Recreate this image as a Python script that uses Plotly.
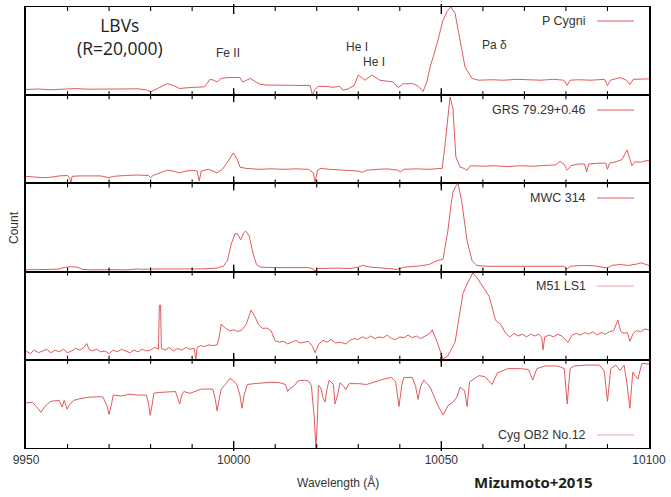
import plotly.graph_objects as go
from plotly.subplots import make_subplots

# ---------------- data (wavelength in Angstrom, relative count per panel) ----------------
names = ["P Cygni", "GRS 79.29+0.46", "MWC 314", "M51 LS1", "Cyg OB2 No.12"]

pcyg = [(9950,0.065),(9953,0.07),(9956,0.062),(9959,0.07),(9962,0.075),(9965,0.068),(9968,0.07),(9971,0.075),
        (9974,0.07),(9977,0.072),(9979,0.06),(9980,0.04),(9981,0.06),(9983,0.11),(9984,0.13),(9985.5,0.11),
        (9987,0.076),(9989,0.085),(9991,0.09),(9993,0.095),(9994.3,0.18),(9995.2,0.17),(9996,0.15),(9997,0.19),
        (9998.4,0.2),(10000,0.2),(10001.5,0.2),(10002.2,0.15),(10003,0.17),(10004,0.19),(10005,0.16),(10006.3,0.125),
        (10008,0.115),(10011,0.114),(10014,0.118),(10017,0.114),(10018.4,0.11),(10019,0.0),(10019.5,0.06),(10020.3,0.1),
        (10022,0.1),(10024,0.09),(10025.5,0.1),(10026.3,0.057),(10027.5,0.07),(10029,0.11),(10030,0.23),(10031.6,0.17),
        (10033.3,0.23),(10035.2,0.17),(10037,0.16),(10038.4,0.15),(10039.6,0.087),(10040.8,0.13),(10042,0.13),(10043.2,0.13),
        (10044.5,0.1),(10045.6,0.04),(10046.5,0.15),(10047.3,0.32),(10048.2,0.46),(10049,0.59),(10050.4,0.85),(10051.4,0.95),
        (10052.3,1.0),(10053.3,0.93),(10054.5,0.625),(10055.7,0.32),(10057.4,0.19),(10059,0.17),(10062,0.175),(10065,0.17),
        (10068,0.18),(10071,0.172),(10074,0.17),(10077,0.18),(10079.5,0.17),(10080.3,0.11),(10081,0.17),(10083,0.175),
        (10086,0.17),(10089.3,0.18),(10090,0.11),(10090.7,0.17),(10093,0.2),(10094.6,0.17),(10095.4,0.12),(10096.2,0.18),
        (10098,0.18),(10100,0.185)]

grs = [(9950,0.08),(9952,0.075),(9954,0.065),(9956,0.07),(9958,0.085),(9960,0.09),(9960.6,0.05),(9960.8,0.0),
       (9961.1,0.08),(9963,0.085),(9966,0.09),(9968,0.085),(9970,0.065),(9971,0.08),(9974,0.09),(9977,0.095),
       (9979.5,0.09),(9980,0.065),(9980.6,0.09),(9983,0.13),(9984,0.15),(9985.5,0.14),(9987,0.12),(9988.5,0.14),
       (9990,0.15),(9991.2,0.14),(9991.7,0.027),(9992.2,0.14),(9994,0.16),(9996,0.12),(9997.3,0.16),(9998.5,0.24),
       (9999.9,0.345),(10001,0.26),(10001.5,0.185),(10003,0.17),(10006,0.16),(10009,0.165),(10012,0.16),(10015,0.165),
       (10018,0.16),(10019.2,0.12),(10019.6,0.015),(10020.2,0.15),(10021,0.17),(10023,0.16),(10026,0.155),(10028,0.15),
       (10030,0.14),(10031,0.125),(10032,0.15),(10035,0.16),(10037,0.165),(10039.5,0.15),(10040.2,0.13),(10041,0.16),
       (10044,0.165),(10047,0.16),(10049,0.165),(10050.2,0.17),(10050.8,0.4),(10051.4,0.68),(10052.1,0.98),(10052.8,0.85),
       (10053.5,0.3),(10054.5,0.185),(10055.5,0.17),(10056.2,0.15),(10057,0.2),(10060,0.195),(10063,0.2),(10066,0.19),
       (10069,0.2),(10072,0.195),(10075,0.2),(10077.5,0.21),(10078.6,0.25),(10079.5,0.22),(10080.3,0.15),(10081.2,0.2),
       (10083,0.22),(10084.5,0.22),(10085,0.13),(10085.5,0.22),(10088,0.23),(10089.6,0.23),(10090,0.16),(10090.5,0.23),
       (10092,0.245),(10093.5,0.27),(10094.7,0.38),(10095.4,0.28),(10095.9,0.2),(10096.6,0.245),(10098,0.24),(10099,0.255),
       (10100,0.26)]

mwc = [(9950,0.02),(9953,0.02),(9956,0.025),(9958,0.03),(9959.5,0.05),(9961,0.055),(9962.5,0.05),(9963.5,0.025),
       (9966,0.02),(9970,0.022),(9974,0.02),(9977,0.03),(9978,0.025),(9981,0.03),(9985,0.028),(9989,0.032),(9992,0.03),
       (9994,0.035),(9996,0.04),(9997.5,0.06),(9998.5,0.125),(9999.4,0.31),(10000.3,0.43),(10000.9,0.43),(10001.7,0.36),
       (10002.4,0.44),(10002.9,0.46),(10003.7,0.41),(10004.7,0.2),(10005.5,0.08),(10006.5,0.05),(10010,0.045),(10014,0.045),
       (10018,0.045),(10019.2,0.03),(10019.6,0.003),(10020.2,0.035),(10022,0.04),(10025,0.04),(10028,0.035),(10030,0.05),
       (10031,0.07),(10033,0.05),(10036,0.04),(10039.3,0.025),(10041,0.05),(10044,0.06),(10047,0.08),(10049,0.125),
       (10050.4,0.14),(10051,0.3),(10051.6,0.47),(10052.3,0.75),(10052.8,0.9),(10053.4,0.96),(10054,1.0),(10054.9,0.8),
       (10055.6,0.55),(10056.2,0.35),(10057.4,0.125),(10058.5,0.07),(10061,0.06),(10065,0.06),(10069,0.058),(10073,0.06),
       (10077,0.065),(10079.5,0.06),(10080.3,0.03),(10081,0.06),(10084,0.07),(10087,0.065),(10090,0.04),(10091,0.07),
       (10093,0.08),(10095,0.07),(10097,0.085),(10098.1,0.1),(10099,0.085),(10100,0.07)]

m51 = [(9950,0.1),(9951,0.07),(9952,0.11),(9953,0.08),(9954,0.1),(9955,0.12),(9956,0.08),(9957,0.11),(9958,0.09),
       (9959,0.12),(9960,0.08),(9961,0.1),(9962,0.13),(9963,0.11),(9964,0.14),(9964.6,0.185),(9965.2,0.12),(9966,0.1),
       (9967,0.12),(9968,0.09),(9969,0.1),(9970,0.07),(9971,0.11),(9972,0.09),(9973,0.12),(9974,0.1),(9975,0.08),
       (9976,0.11),(9977,0.09),(9978,0.12),(9979,0.1),(9980,0.11),(9981,0.14),(9981.9,0.12),(9982.1,0.62),(9982.4,0.62),
       (9982.6,0.13),(9983.5,0.11),(9984.5,0.14),(9985.5,0.1),(9986.5,0.13),(9987.5,0.11),(9988.5,0.14),(9989.5,0.12),
       (9990.5,0.13),(9990.9,0.0),(9991.2,0.14),(9992,0.16),(9993,0.15),(9994,0.17),(9995,0.16),(9996,0.17),(9996.5,0.25),
       (9997,0.405),(9998,0.36),(9999,0.33),(10000,0.34),(10001,0.32),(10002,0.34),(10003,0.4),(10004.2,0.565),(10005,0.5),
       (10006,0.4),(10007,0.355),(10008,0.36),(10009,0.33),(10010,0.215),(10011,0.2),(10012,0.21),(10013,0.18),(10014,0.2),
       (10015,0.22),(10016,0.19),(10017,0.2),(10018,0.21),(10019,0.15),(10019.6,0.08),(10020.5,0.18),(10021.5,0.22),
       (10022.5,0.2),(10023.5,0.23),(10024.5,0.19),(10025.5,0.2),(10027,0.18),(10028,0.22),(10029,0.24),(10030,0.23),
       (10031,0.26),(10032,0.24),(10033,0.27),(10034,0.24),(10035,0.26),(10036,0.25),(10037,0.28),(10038,0.24),(10039,0.23),
       (10040,0.26),(10041,0.25),(10042,0.28),(10043,0.25),(10044,0.27),(10045,0.24),(10046,0.27),(10047.3,0.3),(10047.8,0.34),
       (10049,0.2),(10050.4,0.01),(10051.5,0.04),(10053.3,0.2),(10054.5,0.56),(10055.2,0.75),(10056.3,0.87),(10057.6,0.985),
       (10058.6,0.93),(10060,0.83),(10061.5,0.72),(10062.2,0.6),(10063,0.45),(10064.3,0.4),(10065.5,0.3),(10066.5,0.26),
       (10067.5,0.3),(10068.5,0.27),(10069.5,0.29),(10070.5,0.26),(10071.5,0.29),(10072.5,0.27),(10073.5,0.29),(10074.2,0.25),
       (10074.5,0.114),(10074.9,0.26),(10076,0.28),(10077,0.26),(10078,0.29),(10079,0.27),(10080.5,0.2),(10081.5,0.28),
       (10082.5,0.3),(10083.5,0.28),(10084.5,0.31),(10085.5,0.29),(10086.5,0.32),(10087.5,0.28),(10088.5,0.31),(10089.5,0.29),
       (10090.5,0.32),(10091.5,0.33),(10092.5,0.45),(10093.2,0.32),(10094,0.3),(10094.8,0.31),(10095.4,0.21),(10096.2,0.3),
       (10097,0.33),(10098,0.32),(10099,0.35),(10100,0.34)]

cyg = [(9950,0.51),(9951.5,0.52),(9952.5,0.47),(9953.6,0.405),(9954.5,0.47),(9956,0.53),(9958,0.54),(9958.7,0.465),
       (9959.2,0.54),(9959.9,0.44),(9960.6,0.5),(9961.5,0.54),(9963,0.56),(9965,0.575),(9967,0.58),(9968.5,0.58),
       (9969.5,0.48),(9970,0.38),(9970.6,0.5),(9971,0.6),(9973,0.59),(9975,0.61),(9977,0.6),(9979,0.6),(9979.5,0.5),
       (9979.9,0.37),(9980.4,0.5),(9980.8,0.62),(9982,0.63),(9984,0.635),(9986,0.64),(9986.5,0.57),(9987,0.5),(9987.5,0.6),
       (9988,0.64),(9989.5,0.62),(9990.5,0.64),(9992,0.665),(9994,0.67),(9995,0.665),(9995.6,0.55),(9996,0.42),(9996.5,0.55),
       (9997,0.67),(9998,0.72),(9999.1,0.79),(10000,0.76),(10000.8,0.715),(10001.5,0.6),(10002,0.45),(10002.5,0.6),
       (10003.3,0.72),(10005,0.73),(10007,0.74),(10009,0.745),(10011,0.74),(10012.5,0.72),(10013,0.64),(10013.6,0.68),
       (10014.5,0.7),(10015.5,0.76),(10017,0.77),(10018,0.76),(10018.7,0.71),(10019.4,0.35),(10019.8,0.0),(10020.2,0.35),
       (10020.4,0.71),(10021,0.68),(10021.6,0.56),(10022,0.52),(10022.5,0.68),(10023,0.77),(10024,0.72),(10024.4,0.5),
       (10025,0.6),(10025.6,0.74),(10026.5,0.7),(10027,0.66),(10027.8,0.73),(10030,0.73),(10032,0.72),(10034,0.75),
       (10036,0.78),(10038,0.8),(10039,0.75),(10039.8,0.47),(10040.5,0.72),(10041,0.8),(10043,0.8),(10043.8,0.7),
       (10044.4,0.55),(10045,0.7),(10045.8,0.77),(10047.3,0.69),(10049,0.5),(10050.4,0.375),(10051.6,0.48),(10052.8,0.52),
       (10053.8,0.58),(10054.5,0.69),(10055.6,0.65),(10056.2,0.47),(10056.8,0.75),(10059,0.82),(10060.5,0.81),(10062.2,0.72),
       (10063.5,0.85),(10066,0.9),(10069,0.9),(10071,0.89),(10072,0.77),(10073,0.9),(10075,0.93),(10078,0.93),(10079.6,0.9),
       (10080.3,0.5),(10081,0.9),(10082,0.93),(10085,0.94),(10088,0.94),(10089.2,0.88),(10090,0.53),(10090.8,0.9),
       (10092,0.94),(10093,0.88),(10094,0.94),(10094.7,0.73),(10095.4,0.45),(10096.1,0.86),(10097.3,0.78),(10098.3,0.96),
       (10100,0.95)]

spectra = [pcyg, grs, mwc, m51, cyg]
x_ticks = [9950, 10000, 10050, 10100]
x_ticktext = ["9950", "10000", "10050", "10100"]
x_minor_step = 10

# ---------------- figure ----------------
LINE = "#e05a5a"
LEG_COLORS = ["#e05a5a", "#e05a5a", "#e05a5a", "#f0a0a0", "#f0a8a8"]
TXT = "#333333"
GFONT = "Liberation Sans, Arial, sans-serif"

W, H = 671, 497
L, R, T, B = 26, 22, 7, 49
pw, ph = W - L - R, H - T - B
NP = len(spectra)
panel_h = ph / NP

fig = make_subplots(rows=NP, cols=1, shared_xaxes=True, vertical_spacing=0)
for i, spec in enumerate(spectra):
    fig.add_trace(go.Scatter(x=[p[0] for p in spec], y=[p[1] for p in spec], mode="lines",
                             line=dict(color=LINE, width=1), name=names[i], showlegend=False,
                             hoverinfo="skip"), row=i + 1, col=1)

for i in range(1, NP + 1):
    fig.update_xaxes(range=[x_ticks[0], x_ticks[-1]], tickmode="array", tickvals=x_ticks, ticktext=x_ticktext,
                     ticks="", showline=True, linecolor="black", linewidth=1.2,
                     mirror=True, showgrid=False, zeroline=False, automargin=False,
                     showticklabels=(i == NP), tickfont=dict(family=GFONT, size=12, color=TXT),
                     row=i, col=1)
    fig.update_yaxes(range=[0, 1], showticklabels=False, ticks="", showline=True, linecolor="black",
                     linewidth=1.6, mirror=True, showgrid=False, zeroline=False, automargin=False, row=i, col=1)

# tick marks (inside, every 10 A; longer and crossing the frame at the labelled values)
tick_positions = list(range(x_ticks[0] + x_minor_step, x_ticks[-1], x_minor_step))
minor_in = 4 / panel_h
major_in = 7 / panel_h
major_out = 3 / panel_h
for k in range(1, NP + 1):
    yref = "y domain" if k == 1 else f"y{k} domain"
    xref = "x" if k == 1 else f"x{k}"
    for t in tick_positions:
        major = t in x_ticks
        lin = major_in if major else minor_in
        lout = major_out if major else 0
        for y0, y1 in [(-lout, lin), (1 - lin, 1 + lout)]:
            fig.add_shape(type="line", xref=xref, yref=yref, x0=t, x1=t, y0=y0, y1=y1,
                          line=dict(color="black", width=1.4 if major else 1.1))


def px(xp):
    return (xp - L) / pw


def py(yp):
    return (H - B - yp) / ph


ann = []
# legend-like keys
leg_y = [21, 110, 198, 286, 435]
for name, yy, col in zip(names, leg_y, LEG_COLORS):
    ann.append(dict(x=px(588), y=py(yy), xref="paper", yref="paper", text=name, showarrow=False,
                    xanchor="right", yanchor="middle", font=dict(family=GFONT, size=12.5, color=TXT)))
    fig.add_shape(type="line", xref="paper", yref="paper", x0=px(597), x1=px(634), y0=py(yy), y1=py(yy),
                  line=dict(color=col, width=1.2))

# line identifications
for txt, xx, yy in [("Fe II", 228, 53), ("He I", 357, 47), ("He I", 374, 62), ("Pa δ", 495, 45)]:
    ann.append(dict(x=px(xx), y=py(yy), xref="paper", yref="paper", text=txt, showarrow=False,
                    xanchor="center", yanchor="middle", font=dict(family=GFONT, size=12, color=TXT)))

ann.append(dict(x=px(120), y=py(36.5), xref="paper", yref="paper", text="LBVs<br>(R=20,000)", showarrow=False,
                xanchor="center", yanchor="middle", align="center",
                font=dict(family="Open Sans, sans-serif", size=17.5, color="#222")))

ann.append(dict(x=px(338), y=py(482), xref="paper", yref="paper", text="Wavelength (Å)", showarrow=False,
                xanchor="center", yanchor="middle", font=dict(family=GFONT, size=12, color=TXT)))
ann.append(dict(x=px(533), y=py(482), xref="paper", yref="paper", text="<b>Mizumoto+2015</b>", showarrow=False,
                xanchor="center", yanchor="middle", font=dict(family="Open Sans, sans-serif", size=15, color="#222")))
ann.append(dict(x=px(14), y=py(228), xref="paper", yref="paper", text="Count", showarrow=False, textangle=-90,
                xanchor="center", yanchor="middle", font=dict(family=GFONT, size=12, color=TXT)))

fig.update_layout(width=W, height=H, margin=dict(l=L, r=R, t=T, b=B), paper_bgcolor="white",
                  plot_bgcolor="white", annotations=ann, showlegend=False)

fig.write_html("out.html", config={"displayModeBar": False},
               post_script="document.body.style.margin='0';document.body.style.overflow='hidden';")
